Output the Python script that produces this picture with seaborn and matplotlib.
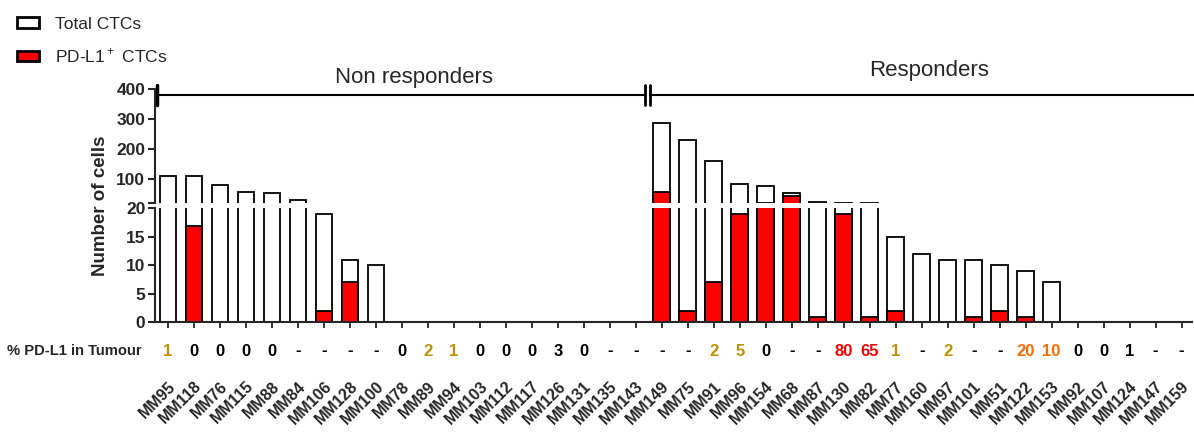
import numpy as np
import pandas as pd
import matplotlib
matplotlib.use('Agg')
import matplotlib.pyplot as plt
import seaborn as sns
from matplotlib.patches import Patch

# data
samples_nr = ['MM95', 'MM118', 'MM76', 'MM115', 'MM88', 'MM84', 'MM106', 'MM128', 'MM100', 'MM78',
              'MM89', 'MM94', 'MM103', 'MM112', 'MM117', 'MM126', 'MM131', 'MM135', 'MM143']
samples_r = ['MM149', 'MM75', 'MM91', 'MM96', 'MM154', 'MM68', 'MM87', 'MM130', 'MM82', 'MM77',
             'MM160', 'MM97', 'MM101', 'MM51', 'MM122', 'MM153', 'MM92', 'MM107', 'MM124', 'MM147', 'MM159']

total_nr = [111, 111, 79, 57, 54, 31, 19, 11, 10, 0, 0, 0, 0, 0, 0, 0, 0, 0, 0]
pdl1_nr = [0, 17, 0, 0, 0, 0, 2, 7, 0, 0, 0, 0, 0, 0, 0, 0, 0, 0, 0]
total_r = [288, 229, 161, 83, 77, 52, 22, 21, 21, 15, 12, 11, 11, 10, 9, 7, 0, 0, 0, 0, 0]
pdl1_r = [56, 2, 7, 19, 21, 45, 1, 19, 1, 2, 0, 0, 1, 2, 1, 0, 0, 0, 0, 0, 0]

tumour_nr = ['1', '0', '0', '0', '0', '-', '-', '-', '-', '0', '2', '1', '0', '0', '0', '3', '0', '-', '-']
tumour_r = ['-', '-', '2', '5', '0', '-', '-', '80', '65', '1', '-', '2', '-', '-', '20', '10', '0', '0', '1', '-', '-']
# colour code of each tumour value: k=black, g=gold, r=red, o=orange
tumour_col_nr = ['g', 'k', 'k', 'k', 'k', 'k', 'k', 'k', 'k', 'k', 'g', 'g', 'k', 'k', 'k', 'k', 'k', 'k', 'k']
tumour_col_r = ['k', 'k', 'g', 'g', 'k', 'k', 'k', 'r', 'r', 'g', 'k', 'g', 'k', 'k', 'o', 'o', 'k', 'k', 'k', 'k', 'k']

samples = samples_nr + samples_r
df = pd.DataFrame({'sample': samples,
                   'total': total_nr + total_r,
                   'pdl1': pdl1_nr + pdl1_r,
                   'tumour': tumour_nr + tumour_r,
                   'tcol': tumour_col_nr + tumour_col_r})

BREAK = 20
# upper segment only shows what goes past the break
df['total_top'] = df['total'].where(df['total'] > BREAK, 0)
df['pdl1_top'] = df['pdl1'].where(df['pdl1'] > BREAK, 0)

sns.set_style('ticks')
plt.rcParams['font.family'] = ['Liberation Sans', 'DejaVu Sans']
plt.rcParams['mathtext.fontset'] = 'custom'
plt.rcParams['mathtext.rm'] = 'Liberation Sans'

W, H = 1194, 432
fig = plt.figure(figsize=(W / 100, H / 100), dpi=100)

def fx(px):
    return px / W

def fy(py):
    return 1 - py / H

left = fx(155)
width = fx(1192) - left
ax_bot = fig.add_axes([left, fy(322.3), width, fy(208.5) - fy(322.3)])
ax_top = fig.add_axes([left, fy(203), width, fy(89) - fy(203)])

colmap = {'k': 'black', 'g': '#C09000', 'r': '#FF0000', 'o': '#FF6A00'}
bar_w = 0.64
lw = 1.3

for ax, tcol, pcol in ((ax_bot, 'total', 'pdl1'), (ax_top, 'total_top', 'pdl1_top')):
    sns.barplot(data=df, x='sample', y=tcol, order=samples, color='white', saturation=1,
                edgecolor='black', linewidth=lw, width=bar_w, errorbar=None, ax=ax)
    sns.barplot(data=df, x='sample', y=pcol, order=samples, color='#FF0000', saturation=1,
                edgecolor='black', linewidth=lw, width=bar_w, errorbar=None, ax=ax)
    ax.set_xlim(-0.5, len(samples) - 0.6)
    ax.set_xlabel('')
    ax.set_ylabel('')
    for s in ['top', 'right']:
        ax.spines[s].set_visible(False)
    ax.spines['left'].set_linewidth(1.5)
    ax.tick_params(axis='y', labelsize=12.5, width=1.5, length=5, pad=2)

ax_bot.set_ylim(0, BREAK)
ax_bot.set_yticks([0, 5, 10, 15, 20])
ax_bot.set_yticklabels(['0', '5', '10', '15', '20'], fontweight='bold', fontsize=12.5)
ax_bot.spines['bottom'].set_linewidth(1.5)
ax_bot.set_xticks(range(len(samples)))
ax_bot.set_xticklabels(samples, rotation=45, ha='right', rotation_mode='anchor',
                       fontweight='bold', fontsize=11.5)
ax_bot.tick_params(axis='x', width=1.3, length=4.5, pad=36)

ax_top.set_ylim(BREAK, 400)
ax_top.set_yticks([20, 100, 200, 300, 400])
ax_top.set_yticklabels(['', '100', '200', '300', '400'], fontweight='bold', fontsize=12.5)
ax_top.spines['bottom'].set_visible(False)
ax_top.set_xticks([])
ax_top.patch.set_alpha(0)

fig.text(fx(100), fy(206), 'Number of cells', rotation=90, ha='center', va='center',
         fontsize=13.5, fontweight='bold')

# tumour PD-L1 row
xt = ax_bot.get_xaxis_transform()
y_row = -(351 - 322.3) / (322.3 - 208.5)
for i, row in df.iterrows():
    ax_bot.text(i, y_row, row['tumour'], ha='center', va='center', fontsize=12,
                fontweight='bold', color=colmap[row['tcol']], transform=xt)
fig.text(fx(7), fy(351), '% PD-L1 in Tumour', ha='left', va='center', fontsize=10.6,
         fontweight='bold')

# group bracket
n_nr = len(samples_nr)
brk = n_nr - 0.55
yb = 380
ax_top.plot([-0.5, brk - 0.1], [yb, yb], color='black', lw=1.5, clip_on=False)
ax_top.plot([brk + 0.1, len(samples) - 0.5], [yb, yb], color='black', lw=1.5, clip_on=False)
ax_top.plot([-0.42, -0.42], [347, 413], color='black', lw=2.5, clip_on=False)
for dx in (-0.08, 0.08):
    ax_top.plot([brk + dx, brk + dx], [347, 413], color='black', lw=2, clip_on=False)
ax_top.text((n_nr - 1) / 2 + 0.45, 440, 'Non responders', ha='center', va='center', fontsize=16)
ax_top.text(n_nr + (len(samples_r) - 1) / 2 + 0.3, 463, 'Responders', ha='center', va='center',
            fontsize=16)

handles = [Patch(facecolor='white', edgecolor='black', linewidth=2),
           Patch(facecolor='#FF0000', edgecolor='black', linewidth=2)]
fig.legend(handles, ['Total CTCs', 'PD-L1$^+$ CTCs'], loc='upper left',
           bbox_to_anchor=(fx(1), fy(1)), frameon=False, fontsize=12.5,
           handlelength=1.3, handleheight=0.55, handletextpad=0.9, labelspacing=0.85)

fig.savefig('out.png', dpi=100)
